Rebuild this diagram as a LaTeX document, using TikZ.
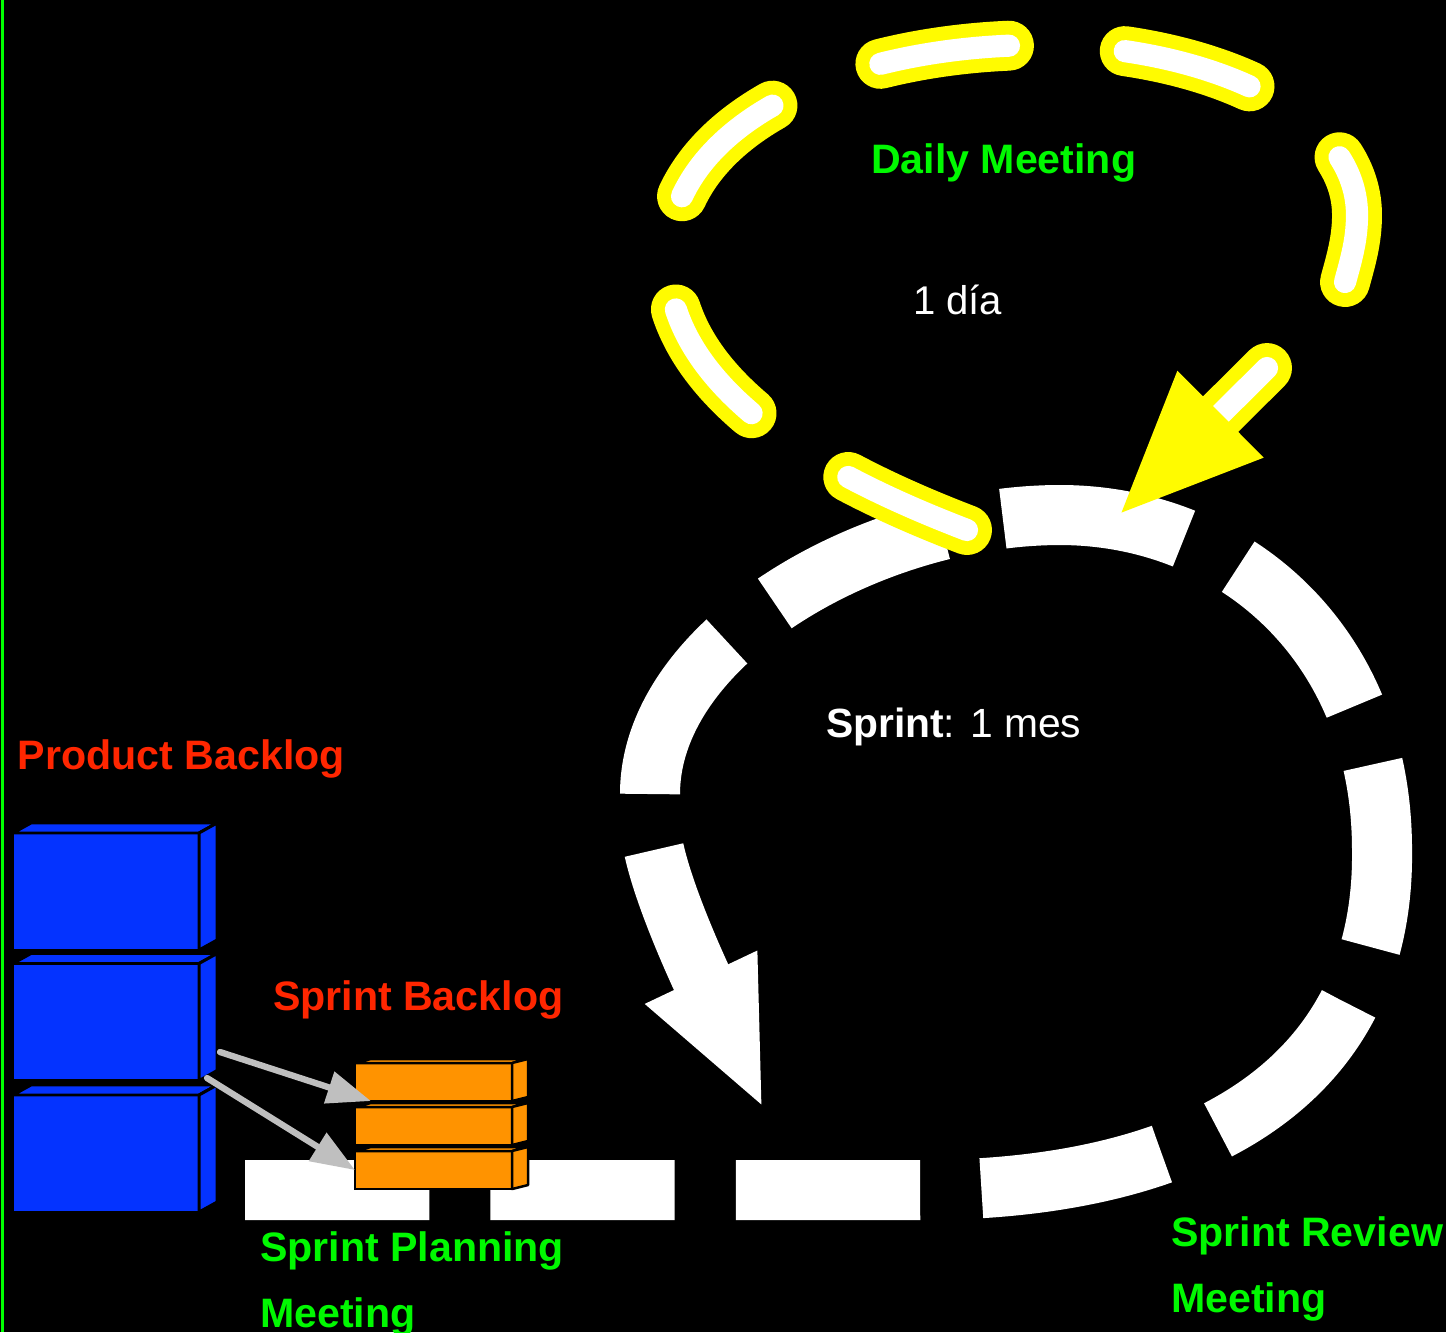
\documentclass[tikz,border=0pt]{standalone}
\usepackage{fontspec}
\setmainfont{Liberation Sans}
\usetikzlibrary{arrows.meta,calc}

\definecolor{pbblue}{RGB}{4,51,255}
\definecolor{sborange}{RGB}{255,147,0}
\definecolor{lblred}{RGB}{255,38,0}
\definecolor{lblgreen}{RGB}{0,249,0}
\definecolor{edgegreen}{RGB}{0,255,0}
\definecolor{loopyellow}{RGB}{255,251,0}
\definecolor{linkgray}{RGB}{191,191,191}

% one unit = one pixel of a 1446 x 1332 canvas, y pointing down
\tikzset{
  x=0.01cm, y=-0.01cm,
  sprintloop/.style={draw=white, line width=17.07pt, dash pattern=on 52.4pt off 17.4pt},
  sprintarrow/.style={draw=white, fill=white, line width=17.07pt,
    -{Triangle[length=41.8pt,width=31.9pt]}},
  dayouter/.style={draw=loopyellow, line width=14.2pt, line cap=round,
    dash pattern=on 37pt off 33pt},
  dayinner/.style={draw=white, line width=6.3pt, line cap=round,
    dash pattern=on 37pt off 33pt},
  dayarrow/.style={draw=loopyellow, fill=loopyellow, line width=14.2pt, line cap=round,
    -{Triangle[length=41.5pt,width=31.3pt]}},
  pbface/.style={draw=black, fill=pbblue, line width=0.85pt, minimum width=1.86cm,
    minimum height=1.17cm, inner sep=0pt, outer sep=0pt},
  sbface/.style={draw=black, fill=sborange, line width=0.7pt, minimum width=1.57cm,
    minimum height=0.38cm, inner sep=0pt, outer sep=0pt},
  feed/.style={draw=linkgray, fill=linkgray, line width=1.8pt, line cap=round,
    -{Triangle[length=12.5pt,width=9.1pt]}},
  lbl/.style={inner sep=0pt, outer sep=0pt, anchor=base west, align=left,
    font=\fontsize{11.7pt}{18.6pt}\selectfont\bfseries},
  plain/.style={inner sep=0pt, outer sep=0pt, anchor=base west, text=white,
    font=\fontsize{11.4pt}{14pt}\selectfont},
}

% side and top faces of a box whose front face is a node
\newcommand\boxsides[5]{%
  \filldraw[fill=#4, draw=black, line width=#5, line join=round]
    (#1.north west) -- ++(#2,#3) -- ($(#1.north east)+(#2,#3)$) -- (#1.north east) -- cycle;
  \filldraw[fill=#4, draw=black, line width=#5, line join=round]
    (#1.north east) -- ++(#2,#3) -- ($(#1.south east)+(#2,#3)$) -- (#1.south east) -- cycle;}

\begin{document}
\begin{tikzpicture}
  \useasboundingbox (0,0) rectangle (1446,1332);
  \fill[black] (0,0) rectangle (1446,1332);
  \draw[edgegreen, line width=1.1pt] (2.5,0) -- (2.5,1332);

  % sprint loop
  \coordinate (s0) at (245,1190);
  \coordinate (s1) at (920,1190);
  \coordinate (s2) at (1382,850);
  \coordinate (s3) at (1060,515);
  \coordinate (s4) at (650,794);
  \coordinate (s5) at (654,850);
  \coordinate (s6) at (764,1110);
  \draw[sprintloop] (s0) -- (s1)
    .. controls +(280,0) and +(3,230) .. (s2)
    .. controls +(0,-210) and +(170,0) .. (s3)
    .. controls +(-190,0) and +(0,-152) .. (s4);
  \draw[sprintarrow] (s5) .. controls +(11,50) and +(-64,-135) .. (s6);

  % product backlog stack
  \node[pbface] (pb1) at (106,891.5) {};
  \boxsides{pb1}{18}{-10}{pbblue}{0.85pt}
  \node[pbface] (pb2) at (106,1022) {};
  \boxsides{pb2}{18}{-10}{pbblue}{0.85pt}
  \node[pbface] (pb3) at (106,1153.5) {};
  \boxsides{pb3}{18}{-10}{pbblue}{0.85pt}

  % sprint backlog stack
  \node[sbface] (sb1) at (433.5,1082) {};
  \boxsides{sb1}{16}{-4}{sborange}{0.7pt}
  \node[sbface] (sb2) at (433.5,1126) {};
  \boxsides{sb2}{16}{-4}{sborange}{0.7pt}
  \node[sbface] (sb3) at (433.5,1170) {};
  \boxsides{sb3}{16}{-4}{sborange}{0.7pt}

  % items taken into the sprint
  \draw[feed] ($(pb2.east)+(21,30)$) -- ($(sb1.south west)+(16,0)$);
  \draw[feed] ($(pb2.east)+(8,56)$) -- (sb3.west);

  % daily loop
  \coordinate (d0) at (967,530);
  \coordinate (d1) at (668,260);
  \coordinate (d2) at (1040,45);
  \coordinate (d3) at (1357,215);
  \coordinate (d4) at (1345,282);
  \coordinate (d5) at (1267,368);
  \coordinate (d6) at (1117,517);
  \foreach \st in {dayouter,dayinner}
    \draw[\st] (d0) .. controls +(-117,-45) and +(0,140) .. (d1)
      .. controls +(0,-140) and +(-190,0) .. (d2)
      .. controls +(160,0) and +(0,-105) .. (d3)
      .. controls +(0,25) and +(6,-22) .. (d4);
  \draw[dayarrow] (d5) -- (d6);
  \begin{scope}
    \clip (1182,375) -- (1260,453) -- (1360,353) -- (1282,275) -- cycle;
    \draw[white, line width=6.3pt, line cap=round] (d5) -- (d6);
  \end{scope}

  % labels
  \node[lbl, text=lblred] (pbl) at (18,769) {Product Backlog};
  \node[lbl, text=lblred] (sbl) at (273,1010) {Sprint Backlog};
  \node[lbl, text=lblgreen] (spm) at (260,1327) {Sprint Planning\\Meeting};
  \node[lbl, text=lblgreen] (srm) at (1171,1312) {Sprint Review\\Meeting};
  \node[lbl, text=lblgreen] (dml) at (871,173) {Daily Meeting};
  \node[plain] (dayl) at (913,314) {1 día};
  \node[plain, font=\fontsize{11.6pt}{14pt}\selectfont] (sprl) at (826,737) {\textbf{Sprint}: 1 mes};
\end{tikzpicture}
\end{document}
